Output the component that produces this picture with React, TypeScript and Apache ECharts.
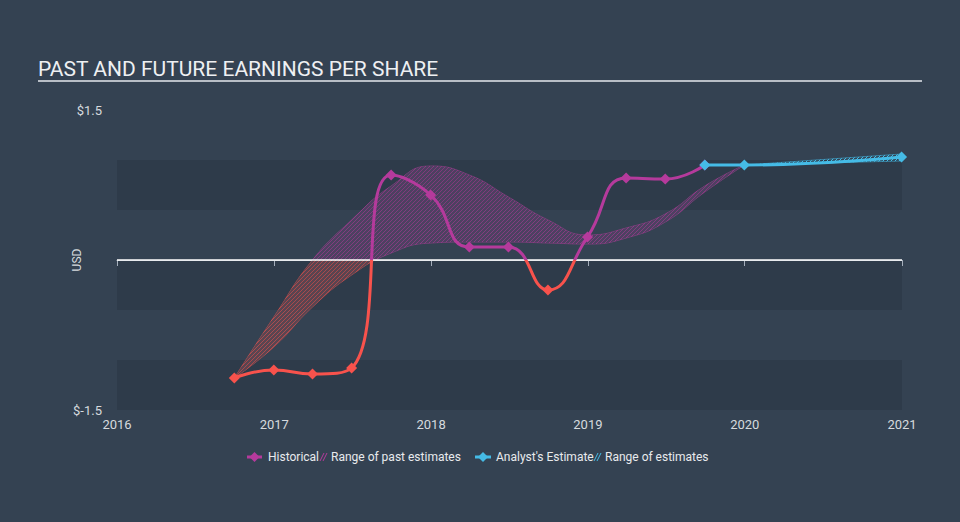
import React, { useEffect, useRef } from 'react';
import * as echarts from 'echarts';

// ---- Data ----
const historicalDates = ['2016-09-30', '2016-12-31', '2017-03-31', '2017-06-30', '2017-09-30', '2017-12-31', '2018-03-31', '2018-06-30', '2018-09-30', '2018-12-31', '2019-03-31', '2019-06-30', '2019-09-30'];
const historicalEps = [-1.18, -1.1, -1.14, -1.08, 0.85, 0.65, 0.13, 0.13, -0.3, 0.23, 0.82, 0.81, 0.95];

const pastRangeDates = ['2016-09-30', '2016-12-31', '2017-03-31', '2017-06-30', '2017-09-30', '2017-12-31', '2018-03-31', '2018-06-30', '2018-09-30', '2018-12-31', '2019-03-31', '2019-06-30', '2019-09-30', '2019-12-31'];
const pastRangeLow = [-1.18, -0.87, -0.47, -0.15, 0.07, 0.17, 0.18, 0.18, 0.17, 0.16, 0.22, 0.38, 0.68, 0.95];
const pastRangeHigh = [-1.18, -0.57, 0.0, 0.4, 0.74, 0.94, 0.85, 0.63, 0.4, 0.25, 0.32, 0.46, 0.74, 0.95];

const analystDates = ['2019-09-30', '2019-12-31', '2020-12-31'];
const analystEps = [0.95, 0.95, 1.03];

const futureRangeDates = ['2019-12-31', '2020-12-31'];
const futureRangeLow = [0.95, 0.99];
const futureRangeHigh = [0.95, 1.06];

const yTickLabels: Record<string, string> = { '1.5': '$1.5', '-1.5': '$-1.5' };
const xMin = '2016-01-01';
const xMax = '2021-01-01';

// ---- Styles ----
const BG = '#344252';
const BAND = '#2e3b4a';
const RED = '#f8524c';
const MAG = '#b53a9c';
const BLUE = '#45bbe6';
const TXT = '#d6dade';
const FONT = 'Roboto, "Noto Sans", sans-serif';

function makeStripes(stroke: string, fill: string | null, size = 4): HTMLCanvasElement {
  const c = document.createElement('canvas');
  c.width = size;
  c.height = size;
  const ctx = c.getContext('2d')!;
  if (fill) {
    ctx.fillStyle = fill;
    ctx.fillRect(0, 0, size, size);
    ctx.globalCompositeOperation = 'destination-out';
  }
  ctx.strokeStyle = stroke;
  ctx.lineWidth = 1;
  ctx.beginPath();
  ctx.moveTo(0, size);
  ctx.lineTo(size, 0);
  ctx.moveTo(-1, 1);
  ctx.lineTo(1, -1);
  ctx.moveTo(size - 1, size + 1);
  ctx.lineTo(size + 1, size - 1);
  ctx.stroke();
  return c;
}

const pairs = (d: string[], v: number[]) => d.map((x, i) => [x, v[i]]);

export default function App() {
  const ref = useRef<HTMLDivElement>(null);
  useEffect(() => {
    document.body.style.margin = '0';
    const chart = echarts.init(ref.current!, undefined, { renderer: 'svg' });
    const overlay = makeStripes('#000', 'rgba(52,66,82,0.68)');
    const blueStripes = makeStripes(BLUE, null);
    const pastDiff = pastRangeHigh.map((h, i) => h - pastRangeLow[i]);
    const futDiff = futureRangeHigh.map((h, i) => h - futureRangeLow[i]);

    const legendText = { fill: '#e8eaed', fontSize: 12, fontFamily: FONT, verticalAlign: 'middle' };
    const legendItems: any[] = [
      { type: 'line', shape: { x1: 247, y1: 457, x2: 262, y2: 457 }, style: { stroke: MAG, lineWidth: 3 } },
      { type: 'polygon', shape: { points: [[254.5, 452], [259.5, 457], [254.5, 462], [249.5, 457]] }, style: { fill: MAG } },
      { type: 'text', x: 268, y: 457, style: { text: 'Historical', ...legendText } },
      { type: 'line', shape: { x1: 320, y1: 461, x2: 324, y2: 453 }, style: { stroke: MAG, lineWidth: 1 } },
      { type: 'line', shape: { x1: 323, y1: 461, x2: 327, y2: 453 }, style: { stroke: MAG, lineWidth: 1 } },
      { type: 'text', x: 331, y: 457, style: { text: 'Range of past estimates', ...legendText } },
      { type: 'line', shape: { x1: 475, y1: 457, x2: 491, y2: 457 }, style: { stroke: BLUE, lineWidth: 3 } },
      { type: 'polygon', shape: { points: [[483, 452], [488, 457], [483, 462], [478, 457]] }, style: { fill: BLUE } },
      { type: 'text', x: 496, y: 457, style: { text: "Analyst's Estimate", ...legendText } },
      { type: 'line', shape: { x1: 594, y1: 461, x2: 598, y2: 453 }, style: { stroke: BLUE, lineWidth: 1 } },
      { type: 'line', shape: { x1: 597, y1: 461, x2: 601, y2: 453 }, style: { stroke: BLUE, lineWidth: 1 } },
      { type: 'text', x: 605, y: 457, style: { text: 'Range of estimates', ...legendText } },
    ];

    chart.setOption({
      animation: false,
      backgroundColor: BG,
      textStyle: { fontFamily: FONT },
      title: {
        text: 'PAST AND FUTURE EARNINGS PER SHARE',
        left: 33,
        top: 53,
        textStyle: { color: '#eef0f2', fontSize: 21, fontWeight: 'normal', fontFamily: FONT },
      },
      graphic: [
        { type: 'line', shape: { x1: 38, y1: 81, x2: 922, y2: 81 }, style: { stroke: '#b8bec6', lineWidth: 2 } },
        ...legendItems,
      ],
      grid: { left: 117, right: 58, top: 110, bottom: 112 },
      xAxis: {
        type: 'time',
        min: xMin,
        max: xMax,
        splitNumber: 5,
        minInterval: 365 * 24 * 3600 * 1000,
        axisLine: { lineStyle: { color: '#a4aebb', width: 1 } },
        axisTick: { show: true, length: 6, lineStyle: { color: '#a4aebb' } },
        axisLabel: {
          color: TXT,
          fontSize: 13,
          margin: 8,
          showMinLabel: true,
          showMaxLabel: true,
          formatter: (v: number) => String(new Date(v).getFullYear()),
        },
        splitLine: { show: false },
      },
      yAxis: {
        type: 'value',
        min: -1.5,
        max: 1.5,
        interval: 0.5,
        name: 'USD',
        nameLocation: 'middle',
        nameGap: 34,
        nameMoveOverlap: false,
        nameRotate: 90,
        nameTextStyle: { color: TXT, fontSize: 12 },
        axisLine: { show: false },
        axisTick: { show: false },
        axisLabel: {
          color: TXT,
          fontSize: 13,
          margin: 15,
          formatter: (v: number) => yTickLabels[String(v)] || '',
        },
        splitLine: { show: false },
        splitArea: { show: true, areaStyle: { color: [BAND, 'rgba(0,0,0,0)'] } },
      },
      visualMap: {
        type: 'piecewise',
        show: false,
        dimension: 1,
        seriesIndex: [0, 1, 4],
        pieces: [
          { gte: -10, lt: 0, color: RED },
          { gte: 0, lte: 10, color: MAG },
        ],
      },
      series: [
        {
          name: 'pastLow',
          type: 'line',
          stack: 'past',
          stackStrategy: 'all',
          smooth: true,
          showSymbol: false,
          symbol: 'none',
          z: 2,
          lineStyle: { width: 0.8, opacity: 0.7 },
          data: pairs(pastRangeDates, pastRangeLow),
        },
        {
          name: 'Range of past estimates',
          type: 'line',
          stack: 'past',
          stackStrategy: 'all',
          smooth: true,
          showSymbol: false,
          symbol: 'none',
          z: 2,
          lineStyle: { width: 0.8, opacity: 0.7 },
          areaStyle: { opacity: 0.6 },
          data: pairs(pastRangeDates, pastDiff),
        },
        {
          name: 'hatchLow',
          type: 'line',
          stack: 'hatch',
          stackStrategy: 'all',
          smooth: true,
          showSymbol: false,
          symbol: 'none',
          z: 3,
          lineStyle: { opacity: 0 },
          data: pairs(pastRangeDates, pastRangeLow),
        },
        {
          name: 'hatch',
          type: 'line',
          stack: 'hatch',
          stackStrategy: 'all',
          smooth: true,
          showSymbol: false,
          symbol: 'none',
          z: 3,
          lineStyle: { opacity: 0 },
          areaStyle: { color: { image: overlay, repeat: 'repeat' }, opacity: 1 },
          data: pairs(pastRangeDates, pastDiff),
          markLine: {
            silent: true,
            symbol: 'none',
            label: { show: false },
            lineStyle: { color: '#ffffff', width: 1.5, type: 'solid', opacity: 1 },
            data: [{ yAxis: 0 }],
          },
        },
        {
          name: 'Historical',
          type: 'line',
          smooth: true,
          symbol: 'diamond',
          symbolSize: 11,
          z: 5,
          lineStyle: { width: 3 },
          data: pairs(historicalDates, historicalEps),
        },
        {
          name: 'futLow',
          type: 'line',
          stack: 'fut',
          stackStrategy: 'all',
          smooth: true,
          symbol: 'none',
          z: 4,
          lineStyle: { color: BLUE, width: 0.8, opacity: 0.7 },
          data: pairs(futureRangeDates, futureRangeLow),
        },
        {
          name: 'Range of estimates',
          type: 'line',
          stack: 'fut',
          stackStrategy: 'all',
          smooth: true,
          symbol: 'none',
          z: 4,
          lineStyle: { color: BLUE, width: 0.8, opacity: 0.7 },
          areaStyle: { color: { image: blueStripes, repeat: 'repeat' }, opacity: 1 },
          data: pairs(futureRangeDates, futDiff),
        },
        {
          name: "Analyst's Estimate",
          type: 'line',
          smooth: true,
          symbol: 'diamond',
          symbolSize: 11,
          z: 6,
          itemStyle: { color: BLUE },
          lineStyle: { color: BLUE, width: 3 },
          data: pairs(analystDates, analystEps),
        },
      ],
    });
    return () => chart.dispose();
  }, []);
  return <div ref={ref} style={{ position: 'fixed', left: 0, top: 0, width: 960, height: 522 }} />;
}
